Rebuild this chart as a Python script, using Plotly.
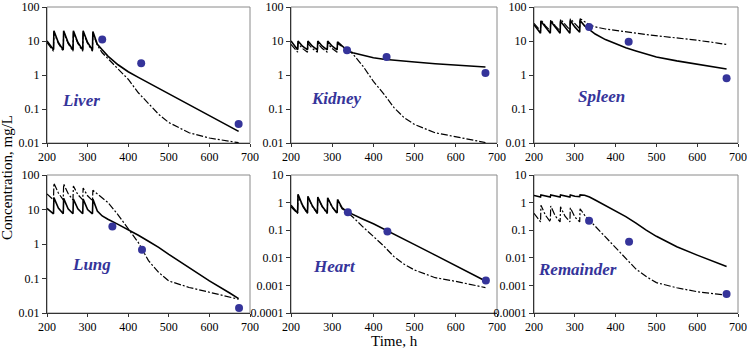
import plotly.graph_objects as go

# ---- data ----
T = [200, 216, 217, 228, 240, 241, 252, 264, 265, 276, 288, 289, 300, 312, 313, 324,
     336, 350, 375, 400, 425, 450, 475, 500, 550, 600, 650, 672]

liver_solid = [10, 5.5, 20, 9, 5.5, 20, 9, 5.5, 20, 9, 5.5, 20, 9, 5.5, 19, 8,
               5.5, 3.6, 2.0, 1.25, 0.85, 0.59, 0.41, 0.285, 0.136, 0.065, 0.031, 0.022]
liver_dash = [9, 5, 18, 8.5, 5, 18, 8.5, 5, 18, 8.5, 5, 18, 8.5, 5, 17, 7.5,
              4.5, 3.0, 1.5, 0.75, 0.3, 0.14, 0.07, 0.04, 0.02, 0.014, 0.011, 0.0102]

kidney_solid = [10, 5.5, 10, 7, 5.5, 10, 7, 5.5, 10, 7, 5.5, 10, 7, 5.5, 9.5, 7,
                5.3, 4.5, 3.7, 3.2, 2.9, 2.7, 2.55, 2.4, 2.15, 1.95, 1.8, 1.72]
kidney_dash = [8, 4.7, 8.5, 6, 4.7, 8.5, 6, 4.7, 8.5, 6, 4.7, 8.5, 6, 4.7, 8.5, 7,
               5.6, 4.2, 1.8, 0.65, 0.28, 0.11, 0.055, 0.035, 0.02, 0.0155, 0.012, 0.0103]

spleen_solid = [30, 17, 38, 25, 17, 38, 25, 17, 38, 25, 17, 40, 26, 18, 40, 28,
                21, 16, 11, 8.3, 6.3, 5.1, 4.1, 3.4, 2.6, 2.05, 1.65, 1.5]
spleen_dash = [33, 20, 42, 28, 20, 42, 28, 20, 44, 30, 21, 45, 32, 23, 45, 36,
               30, 26, 22.5, 20.5, 19, 17, 15.5, 14.4, 12, 10.5, 8.7, 7.9]

lung_solid = [10.7, 7.5, 22, 11, 7.5, 21, 10.5, 7.5, 20, 10.5, 7.5, 20, 10, 7.5, 20, 9,
              6.5, 5.2, 3.7, 2.6, 1.8, 1.2, 0.8, 0.5, 0.2, 0.085, 0.038, 0.026]
lung_dash = [28, 19, 58, 30, 19, 55, 29, 19, 48, 27, 19, 42, 25, 18, 36, 28,
             22, 16, 7, 2.8, 1.1, 0.33, 0.15, 0.085, 0.055, 0.04, 0.029, 0.025]

heart_solid = [0.8, 0.42, 2.0, 0.8, 0.42, 1.7, 0.75, 0.42, 1.6, 0.72, 0.42, 1.5, 0.7, 0.42, 1.3, 0.65,
               0.47, 0.37, 0.25, 0.17, 0.112, 0.073, 0.047, 0.030, 0.0125, 0.0052, 0.0022, 0.00145]
heart_dash = [0.7, 0.4, 1.8, 0.75, 0.4, 1.6, 0.72, 0.4, 1.5, 0.7, 0.4, 1.4, 0.68, 0.4, 1.2, 0.6,
              0.45, 0.3, 0.13, 0.06, 0.027, 0.011, 0.0058, 0.0036, 0.0019, 0.0014, 0.001, 0.00083]

rem_solid = [1.8, 1.6, 1.9, 1.7, 1.6, 1.9, 1.7, 1.6, 1.9, 1.7, 1.6, 1.9, 1.7, 1.65, 1.9, 1.85,
             1.6, 1.25, 0.8, 0.5, 0.31, 0.18, 0.1, 0.06, 0.025, 0.0125, 0.0063, 0.0048]
rem_dash = [0.41, 0.2, 0.8, 0.35, 0.2, 0.75, 0.33, 0.2, 0.7, 0.32, 0.2, 0.65, 0.3, 0.2, 0.6, 0.35,
            0.23, 0.14, 0.057, 0.022, 0.009, 0.0039, 0.0021, 0.00126, 0.00082, 0.00059, 0.00048, 0.00044]

liver_obs_t, liver_obs = [336, 432, 672], [11, 2.2, 0.036]
kidney_obs_t, kidney_obs = [336, 432, 672], [5.3, 3.4, 1.14]
spleen_obs_t, spleen_obs = [335, 432, 672], [26, 9.5, 0.8]
lung_obs_t, lung_obs = [361, 434, 673], [3.2, 0.68, 0.014]
heart_obs_t, heart_obs = [338, 434, 673], [0.45, 0.09, 0.0015]
rem_obs_t, rem_obs = [335, 433, 672], [0.22, 0.038, 0.00049]

panel_names = ["Liver", "Kidney", "Spleen", "Lung", "Heart", "Remainder"]
x_ticks = [200, 300, 400, 500, 600, 700]
y_ticks_top = [0.01, 0.1, 1, 10, 100]
y_ticklabels_top = ["0.01", "0.1", "1", "10", "100"]
y_ticks_low = [0.0001, 0.001, 0.01, 0.1, 1, 10]
y_ticklabels_low = ["0.0001", "0.001", "0.01", "0.1", "1", "10"]

# ---- layout geometry ----
FONT = "Liberation Serif"
BLUE = "#35349a"
xdom = [[47/747, 250/747], [291/747, 497/747], [534/747, 738/747]]
ydom = [[1-143/356, 1-7/356], [1-313/356, 1-175/356]]
label_pos = [(0.167, 0.31), (0.222, 0.324), (0.33, 0.345),
             (0.217, 0.355), (0.209, 0.335), (0.211, 0.317)]

panels = [
    (liver_solid, liver_dash, liver_obs_t, liver_obs),
    (kidney_solid, kidney_dash, kidney_obs_t, kidney_obs),
    (spleen_solid, spleen_dash, spleen_obs_t, spleen_obs),
    (lung_solid, lung_dash, lung_obs_t, lung_obs),
    (heart_solid, heart_dash, heart_obs_t, heart_obs),
    (rem_solid, rem_dash, rem_obs_t, rem_obs),
]

fig = go.Figure()
layout = dict(
    template="none",
    width=747, height=356, margin=dict(l=0, r=0, t=0, b=0, autoexpand=False),
    paper_bgcolor="white", plot_bgcolor="white", showlegend=False,
    font=dict(family=FONT, size=12, color="black"),
)
shapes = []
annotations = []

for i, (solid, dash, ot, ov) in enumerate(panels):
    n = i + 1
    xa = "x" if n == 1 else f"x{n}"
    ya = "y" if n == 1 else f"y{n}"
    r, c = divmod(i, 3)
    fig.add_trace(go.Scatter(x=T, y=dash, mode="lines", xaxis=xa, yaxis=ya,
                             line=dict(color="black", width=1.2, dash="7px,2px,2px,2px")))
    fig.add_trace(go.Scatter(x=T, y=solid, mode="lines", xaxis=xa, yaxis=ya,
                             line=dict(color="black", width=1.6)))
    fig.add_trace(go.Scatter(x=ot, y=ov, mode="markers", xaxis=xa, yaxis=ya,
                             marker=dict(color=BLUE, size=8, line=dict(width=0)),
                             cliponaxis=False))
    key_x = "xaxis" if n == 1 else f"xaxis{n}"
    key_y = "yaxis" if n == 1 else f"yaxis{n}"
    layout[key_x] = dict(domain=xdom[c], anchor=ya, range=[200, 700], automargin=False,
                         tickvals=x_ticks, showgrid=False, zeroline=False,
                         showline=True, linecolor="#333", linewidth=1,
                         ticks="outside", ticklen=3, tickcolor="#333",
                         ticklabeloverflow="allow",
                         tickfont=dict(family=FONT, size=12))
    if i in (4, 5):
        yr, tv, tt = [-4, 1], y_ticks_low, y_ticklabels_low
    else:
        yr, tv, tt = [-2, 2], y_ticks_top, y_ticklabels_top
    layout[key_y] = dict(domain=ydom[r], anchor=xa, type="log", range=yr, automargin=False,
                         tickvals=tv, ticktext=tt, showgrid=False, zeroline=False,
                         showline=True, linecolor="#333", linewidth=1,
                         ticks="outside", ticklen=4, tickcolor="#333",
                         ticklabeloverflow="allow",
                         tickfont=dict(family=FONT, size=12))
    shapes.append(dict(type="rect", xref=f"{xa} domain", yref=f"{ya} domain",
                       x0=0, x1=1, y0=0, y1=1, line=dict(color="#8a8a8a", width=1),
                       layer="below"))
    lx, ly = label_pos[i]
    annotations.append(dict(text=f"<b><i>{panel_names[i]}</i></b>", xref=f"{xa} domain",
                            yref=f"{ya} domain", x=lx, y=ly, showarrow=False,
                            xanchor="center", yanchor="middle",
                            font=dict(family=FONT, size=17, color=BLUE)))

annotations.append(dict(text="Concentration, mg/L", xref="paper", yref="paper",
                        x=7/747, y=0.5, textangle=-90, showarrow=False,
                        xanchor="center", yanchor="middle",
                        font=dict(family=FONT, size=15, color="black")))
annotations.append(dict(text="Time, h", xref="paper", yref="paper",
                        x=394/747, y=1-341/356, showarrow=False,
                        xanchor="center", yanchor="middle",
                        font=dict(family=FONT, size=15, color="black")))

layout["shapes"] = shapes
layout["annotations"] = annotations
fig.update_layout(**layout)
fig.write_html("out.html", config={"displayModeBar": False},
               post_script="document.body.style.margin='0';document.body.style.overflow='hidden';")
